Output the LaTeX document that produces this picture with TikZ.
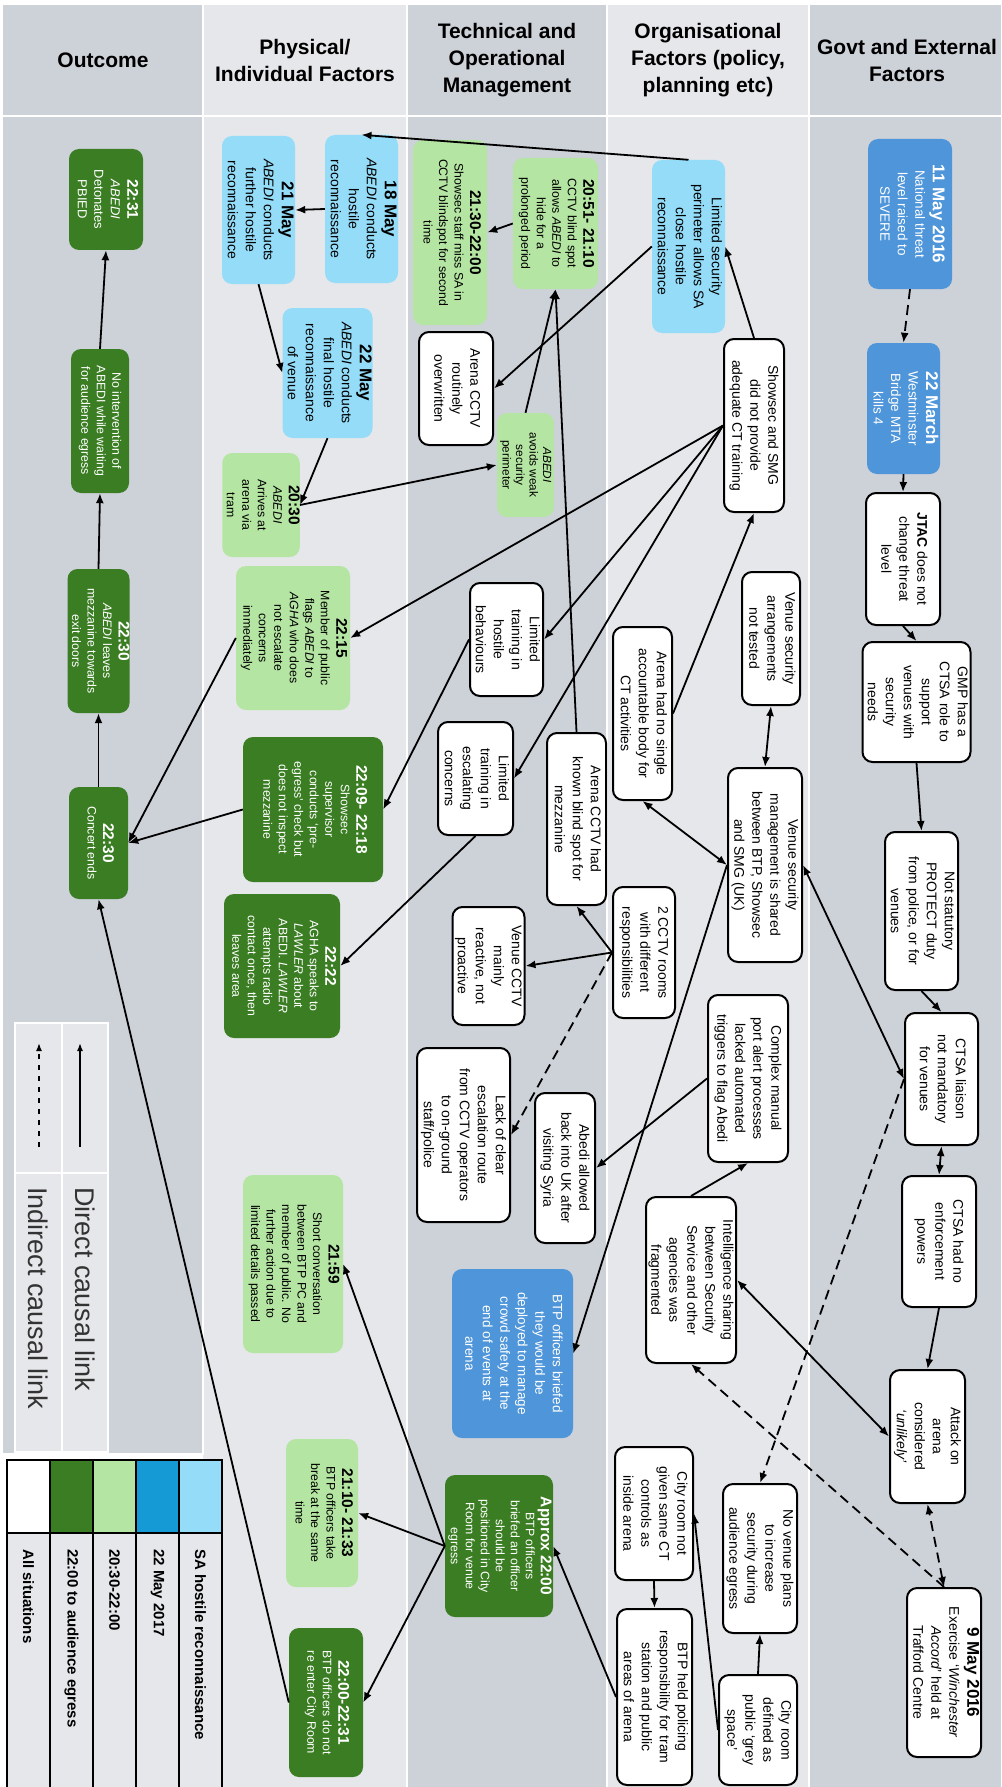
\documentclass[tikz,border=0pt]{standalone}
\usepackage{fontspec}
\setmainfont{Liberation Sans}
\usepackage{graphicx}
\usetikzlibrary{arrows.meta}
\definecolor{colDark}{RGB}{205,209,216}
\definecolor{colLight}{RGB}{229,231,234}
\definecolor{dkgreen}{RGB}{59,125,35}
\definecolor{ltgreen}{RGB}{180,229,162}
\definecolor{ltblue}{RGB}{148,220,248}
\definecolor{midblue}{RGB}{78,149,217}
\definecolor{swatchblue}{RGB}{21,154,214}
\newcommand{\rotx}[1]{\rotatebox{-90}{\begin{tabular}{@{}c@{}}#1\end{tabular}}}
\newcommand{\ttime}[1]{{\fontsize{15.5}{15.5}\selectfont\bfseries #1}}
\newcommand{\tdate}[1]{{\fontsize{17}{17}\selectfont\bfseries #1}}
\begin{document}
\begin{tikzpicture}[x=1pt, y=-1pt,
  box/.style={rectangle, rounded corners=10pt, inner sep=0pt},
  dims/.style 2 args={minimum width=#1pt, minimum height=#2pt},
  white node/.style={box, draw=black, line width=2pt, fill=white, font=\fontsize{14}{18}\selectfont},
  green node/.style={box, fill=dkgreen, text=white, font=\fontsize{12.3}{15.5}\selectfont},
  pale node/.style={box, fill=ltgreen, font=\fontsize{12.3}{15.5}\selectfont},
  sky node/.style={box, fill=ltblue, font=\fontsize{14}{18}\selectfont},
  blue node/.style={box, fill=midblue, text=white, font=\fontsize{13.5}{17.5}\selectfont},
  header/.style={align=center, font=\fontsize{21}{27}\selectfont\bfseries},
  link/.style={-{Latex[length=10pt,width=8pt]}, line width=1.8pt},
  two way/.style={{Latex[length=10pt,width=8pt]}-{Latex[length=10pt,width=8pt]}, line width=1.8pt},
  indirect/.style={link, dash pattern=on 10pt off 6pt},
  indirect two way/.style={two way, dash pattern=on 10pt off 6pt}]
\useasboundingbox (0,0) rectangle (1001,1787);
\fill[white] (0,0) rectangle (1001,1787);
% swim lanes
\fill[colDark] (3,5) rectangle (203,1453);
\fill[colLight] (203,5) rectangle (407,1787);
\fill[colDark] (407,5) rectangle (607,1787);
\fill[colLight] (607,5) rectangle (809,1787);
\fill[colDark] (809,5) rectangle (1001,1787);
\draw[white, line width=2.5pt] (203,5) -- (203,1455) (407,5) -- (407,1787) (607,5) -- (607,1787) (809,5) -- (809,1787) (3,116) -- (1001,116);
\node[header] (hOutcome) at (103,60) {Outcome};
\node[header] (hPhysical) at (305,60) {Physical/\\Individual Factors};
\node[header] (hTechnical) at (507,60) {Technical and\\Operational\\Management};
\node[header] (hOrganisational) at (708,60) {Organisational\\Factors (policy,\\planning etc)};
\node[header] (hGovt) at (907,60) {Govt and External\\Factors};

% link legend
\fill[colLight] (15,1023) rectangle (108,1452);
\draw[white, line width=1.5pt] (15,1023) rectangle (108,1452) (62,1023) -- (62,1452) (15,1173) -- (108,1173);
\coordinate (directA) at (80,1147);
\coordinate (directB) at (80,1043);
\coordinate (indirectA) at (39,1147);
\coordinate (indirectB) at (39,1043);
\draw[-{Latex[length=8pt,width=6pt]}, line width=1.5pt] (directA) -- (directB);
\draw[-{Latex[length=8pt,width=6pt]}, line width=1.5pt, dash pattern=on 5pt off 6pt] (indirectA) -- (indirectB);
\node[anchor=north, inner sep=0pt, text=black!80, font=\fontsize{27}{30}\selectfont] (lDirect) at (85,1187) {\rotatebox{-90}{Direct causal link}};
\node[anchor=north, inner sep=0pt, text=black!80, font=\fontsize{27}{30}\selectfont] (lIndirect) at (38,1187) {\rotatebox{-90}{Indirect causal link}};

% colour legend
\foreach \x/\c/\t in {7/white/All situations, 50/dkgreen/22:00 to audience egress, 93/ltgreen/20:30-22:00, 136/swatchblue/22 May 2017, 179/ltblue/SA hostile reconnaissance}{
  \fill[\c] (\x,1460) rectangle (\x+43,1533);
  \fill[colLight] (\x,1533) rectangle (\x+43,1790);
  \node[anchor=north, inner sep=0pt, font=\fontsize{15}{18}\selectfont\bfseries] at (\x+21.5,1549) {\rotatebox{-90}{\t}};
}
\draw[line width=1.5pt] (7,1460) rectangle (222,1792) (50,1460) -- (50,1792) (93,1460) -- (93,1792) (136,1460) -- (136,1792) (179,1460) -- (179,1792) (7,1533) -- (222,1533);

% outcome lane
\node[green node, dims={74}{101}, font=\fontsize{13}{16.5}\selectfont] (detonate) at (106,199.5) {\rotx{\ttime{22:31}\\\textit{ABEDI}\\Detonates\\PBIED}};
\node[green node, dims={58}{144}] (nointervene) at (100,421) {\rotx{No intervention of\\ABEDI while waiting\\for audience egress}};
\node[green node, dims={59}{144}] (leaves) at (98.5,641) {\rotx{\ttime{22:30}\\\textit{ABEDI} leaves\\mezzanine towards\\exit doors}};
\node[green node, dims={59}{112}] (concert) at (98.5,843) {\rotx{\ttime{22:30}\\Concert ends}};

% physical / individual lane
\node[sky node, dims={73}{148}] (recceA) at (361.5,209) {\rotx{\tdate{18 May}\\\textit{ABEDI} conducts\\hostile\\reconnaissance}};
\node[sky node, dims={73}{148}] (recceB) at (258.5,210) {\rotx{\tdate{21 May}\\\textit{ABEDI} conducts\\further hostile\\reconnaissance}};
\node[sky node, dims={87}{130}] (recceC) at (327.5,373) {\rotx{\tdate{22 May}\\\textit{ABEDI} conducts\\final hostile\\reconnaissance\\of venue}};
\node[pale node, dims={74}{104}] (arrive) at (261,505) {\rotx{\ttime{20:30}\\\textit{ABEDI}\\Arrives at\\arena via\\tram}};
\node[pale node, dims={114}{144}] (flag) at (293,638) {\rotx{\ttime{22:15}\\Member of public\\flags \textit{ABEDI} to\\\textit{AGHA} who does\\not escalate\\concerns\\immediately}};
\node[green node, dims={140}{145}] (preegress) at (313,809.5) {\rotx{\ttime{22:09- 22:18}\\Showsec\\supervisor\\conducts `pre-\\egress' check but\\does not inspect\\mezzanine}};
\node[green node, dims={116}{144}] (agha) at (282,966) {\rotx{\ttime{22:22}\\AGHA speaks to\\\textit{LAWLER} about\\ABEDI. \textit{LAWLER}\\attempts radio\\contact once, then\\leaves area}};
\node[pale node, dims={100}{178}] (talk) at (293,1264) {\rotx{\ttime{21:59}\\Short conversation\\between BTP PC and\\member of public. No\\further action due to\\limited details passed}};
\node[pale node, dims={72}{148}] (brk) at (322,1513) {\rotx{\ttime{21:10- 21:33}\\BTP officers take\\break at the same\\time}};
\node[green node, dims={74}{149}] (noreenter) at (326,1702.5) {\rotx{\ttime{22:00-22:31}\\BTP officers do not\\re enter City Room}};

% technical and operational lane
\node[pale node, dims={74}{185}] (miss) at (450,232.5) {\rotx{\ttime{21:30-22:00}\\Showsec staff miss SA in\\CCTV blindspot for second\\time}};
\node[pale node, dims={85}{131}] (blindspot) at (555.5,223.5) {\rotx{\ttime{20:51- 21:10}\\CCTV blind spot\\allows \textit{ABEDI} to\\hide for a\\prolonged period}};
\node[white node, dims={74}{113}] (overwrite) at (456,388.5) {\rotx{Arena CCTV\\routinely\\overwritten}};
\node[pale node, dims={57}{104}, font=\fontsize{11.8}{13.5}\selectfont] (avoid) at (525.5,465) {\rotx{\textit{ABEDI}\\avoids weak\\security\\perimeter}};
\node[white node, dims={73}{113}] (hostile) at (506.5,639.5) {\rotx{Limited\\training in\\hostile\\behaviours}};
\node[white node, dims={75}{113}] (escalate) at (475.5,778.5) {\rotx{Limited\\training in\\escalating\\concerns}};
\node[white node, dims={59}{172}] (knownspot) at (576.5,819) {\rotx{Arena CCTV had\\known blind spot for\\mezzanine}};
\node[white node, dims={69}{118}] (reactive) at (488.5,966) {\rotx{Venue CCTV\\mainly\\reactive, not\\proactive}};
\node[white node, dims={93}{174}] (noroute) at (463.5,1135) {\rotx{Lack of clear\\escalation route\\from CCTV operators\\to on-ground\\staff/police}};
\node[white node, dims={60}{150}] (syria) at (565,1168) {\rotx{Abedi allowed\\back into UK after\\visiting Syria}};
\node[blue node, dims={121}{169}] (briefed) at (512.5,1353.5) {\rotx{BTP officers briefed\\they would be\\deployed to manage\\crowd safety at the\\end of events at\\arena}};
\node[green node, dims={108}{142}, font=\fontsize{12.3}{15}\selectfont] (approx) at (499,1546) {\rotx{\ttime{Approx 22:00}\\BTP officers\\briefed an officer\\should be\\positioned in City\\Room for venue\\egress}};

% organisational lane
\node[sky node, dims={73}{173}] (perimeter) at (688.5,246.5) {\rotx{Limited security\\perimeter allows SA\\close hostile\\reconnaissance}};
\node[white node, dims={60}{173}] (training) at (754,425.5) {\rotx{Showsec and SMG\\did not provide\\adequate CT training}};
\node[white node, dims={58}{133}] (tested) at (771,638.5) {\rotx{Venue security\\arrangements\\not tested}};
\node[white node, dims={59}{173}] (nobody) at (642.5,713.5) {\rotx{Arena had no single\\accountable body for\\CT activities}};
\node[white node, dims={74}{194}] (shared) at (765,865) {\rotx{Venue security\\management is shared\\between BTP, Showsec\\and SMG (UK)}};
\node[white node, dims={62}{131}] (rooms) at (644,952.5) {\rotx{2 CCTV rooms\\with different\\responsibilities}};
\node[white node, dims={80}{167}] (portalert) at (748,1078.5) {\rotx{Complex manual\\port alert processes\\lacked automated\\triggers to flag Abedi}};
\node[white node, dims={88}{166}] (intel) at (691,1280) {\rotx{Intelligence sharing\\between Security\\Service and other\\agencies was\\fragmented}};
\node[white node, dims={78}{133}] (citynot) at (654,1513.5) {\rotx{City room not\\given same CT\\controls as\\inside arena}};
\node[white node, dims={74}{149}] (noplans) at (760,1558.5) {\rotx{No venue plans\\to increase\\security during\\audience egress}};
\node[white node, dims={75}{176}] (btpheld) at (654.5,1697) {\rotx{BTP held policing\\responsibility for tram\\station and public\\areas of arena}};
\node[white node, dims={78}{110}] (greyspace) at (758,1730) {\rotx{City room\\defined as\\public `grey\\space'}};

% govt and external lane
\node[blue node, dims={84}{150}] (severe) at (910,214) {\rotx{\tdate{11 May 2016}\\National threat\\level raised to\\SEVERE}};
\node[blue node, dims={73}{131}] (westminster) at (903.5,408.5) {\rotx{\tdate{22 March}\\Westminster\\Bridge MTA\\kills 4}};
\node[white node, dims={74}{132}] (jtac) at (903,559) {\rotx{\textbf{JTAC} does not\\change threat\\level}};
\node[white node, dims={107}{120}] (gmp) at (916.5,702) {\rotx{GMP has a\\CTSA role to\\support\\venues with\\security\\needs}};
\node[white node, dims={73}{158}] (protect) at (921.5,911) {\rotx{Not statutory\\PROTECT duty\\from police, or for\\venues}};
\node[white node, dims={73}{132}] (liaison) at (941.5,1079) {\rotx{CTSA liaison\\not mandatory\\for venues}};
\node[white node, dims={74}{131}] (powers) at (939,1241.5) {\rotx{CTSA had no\\enforcement\\powers}};
\node[white node, dims={75}{133}] (unlikely) at (927.5,1436.5) {\rotx{Attack on\\arena\\considered\\\textit{`unlikely'}}};
\node[white node, dims={74}{169}] (exercise) at (944,1672.5) {\rotx{\tdate{9 May 2016}\\Exercise `\textit{Winchester}\\\textit{Accord}' held at\\Trafford Centre}};

% causal links
\draw[link] (nointervene.north) -- (detonate.south);
\draw[link] (leaves.north) -- (nointervene.south);
\draw[link] (concert.north) -- (leaves.south);
\draw[link] (recceA.west) -- (recceB.east);
\draw[link] (recceB.south) -- (recceC.west);
\draw[link] (recceC.south) -- (arrive.east);
\draw[link] (arrive.east) -- (avoid.west);
\draw[link] (flag.west) -- (concert.east);
\draw[link] (preegress.west) -- (concert.east);
\draw[link] (noreenter.west) -- (concert.south);
\draw[link] (approx.west) -- (talk.east);
\draw[link] (approx.west) -- (brk.east);
\draw[link] (approx.west) -- (noreenter.east);
\draw[link] (btpheld.west) -- (approx.east);
\draw[link] (greyspace.north) -- (noplans.south);
\draw[link] (greyspace.west) -- (citynot.east);
\draw[link] (citynot.south) -- (btpheld.north);
\draw[link] (blindspot.west) -- (miss.east);
\draw[link] (avoid.north) -- (blindspot.south);
\draw[link] (knownspot.north) -- (blindspot.south);
\draw[link] (perimeter.west) -- (overwrite.east);
\draw[link] (perimeter.north) -- (recceA.north);
\draw[link] (training.north) -- (perimeter.east);
\draw[link] (training.west) -- (flag.east);
\draw[link] (training.west) -- (hostile.east);
\draw[link] (training.west) -- (escalate.east);
\draw[link] (hostile.west) -- (preegress.east);
\draw[link] (escalate.south) -- (agha.east);
\draw[link] (nobody.east) -- (training.south);
\draw[two way] (nobody.south) -- (shared.west);
\draw[two way] (tested.south) -- (shared.north);
\draw[link] (shared.west) -- (briefed.east);
\draw[two way] (shared.east) -- (liaison.west);
\draw[link] (rooms.west) -- (knownspot.south);
\draw[link] (rooms.west) -- (reactive.east);
\draw[indirect] (rooms.west) -- (noroute.east);
\draw[link] (portalert.west) -- (syria.east);
\draw[link] (intel.north) -- (portalert.south);
\draw[two way] (intel.east) -- (unlikely.west);
\draw[indirect] (liaison.west) -- (noplans.north);
\draw[indirect] (exercise.north) -- (intel.south);
\draw[indirect two way] (exercise.north) -- (unlikely.south);
\draw[indirect] (severe.south) -- (westminster.north);
\draw[link] (westminster.south) -- (jtac.north);
\draw[link] (jtac.south) -- (gmp.north);
\draw[link] (gmp.south) -- (protect.north);
\draw[link] (protect.south) -- (liaison.north);
\draw[two way] (liaison.south) -- (powers.north);
\draw[link] (powers.south) -- (unlikely.north);
\end{tikzpicture}
\end{document}
